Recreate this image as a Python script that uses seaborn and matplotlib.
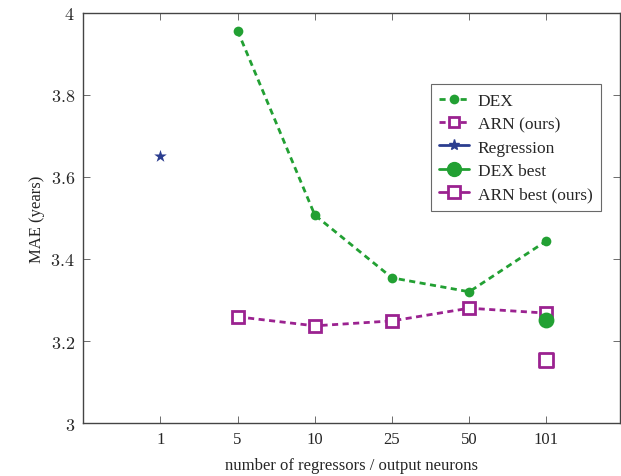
import numpy as np
import pandas as pd
import matplotlib
matplotlib.use("Agg")
import matplotlib.pyplot as plt
from matplotlib.lines import Line2D
import seaborn as sns

# values
categories = ["1", "5", "10", "25", "50", "101"]
dex_x = ["5", "10", "25", "50", "101"]
dex_mae = [3.956, 3.507, 3.354, 3.320, 3.444]
arn_x = ["5", "10", "25", "50", "101"]
arn_mae = [3.259, 3.237, 3.249, 3.280, 3.268]
reg_x = ["1"]
reg_mae = [3.651]
dex_best_x = ["101"]
dex_best_mae = [3.251]
arn_best_x = ["101"]
arn_best_mae = [3.154]

green = "#22a033"
purple = "#9b2290"
blue = "#2b3d8f"

sns.set_theme(style="ticks")
plt.rcParams['font.family'] = ['Liberation Serif', 'DejaVu Serif']
plt.rcParams['mathtext.fontset'] = 'cm'

pos = {c: i for i, c in enumerate(categories)}

def frame(xs, ys, name):
    return pd.DataFrame({"x": [pos[v] for v in xs], "mae": ys, "series": name})

fig, ax = plt.subplots(figsize=(6.21, 4.77), dpi=100)

sns.lineplot(data=frame(dex_x, dex_mae, "DEX"), x="x", y="mae", ax=ax, color=green,
             linestyle=(0, (2.2, 1.6)), linewidth=2, marker="o", markersize=7,
             markeredgewidth=0, legend=False)
sns.lineplot(data=frame(arn_x, arn_mae, "ARN"), x="x", y="mae", ax=ax, color=purple,
             linestyle=(0, (2.2, 1.6)), linewidth=2, marker="s", markersize=9,
             markerfacecolor="white", markeredgecolor=purple, markeredgewidth=2,
             legend=False)
sns.scatterplot(data=frame(reg_x, reg_mae, "Regression"), x="x", y="mae", ax=ax,
                color=blue, marker="*", s=90, linewidth=0, legend=False)
sns.scatterplot(data=frame(dex_best_x, dex_best_mae, "DEX best"), x="x", y="mae", ax=ax,
                color=green, marker="o", s=130, linewidth=0, legend=False, zorder=5)
sns.scatterplot(data=frame(arn_best_x, arn_best_mae, "ARN best"), x="x", y="mae", ax=ax,
                marker="s", s=110, facecolor="white", edgecolor=purple, linewidth=2,
                legend=False, zorder=5)

ax.set_xlim(-1.0, 5.95)
ax.set_ylim(3, 4)
ax.set_xticks(range(len(categories)))
ax.set_xticklabels(categories, fontsize=12)
yt = [3, 3.2, 3.4, 3.6, 3.8, 4]
ax.set_yticks(yt)
ax.set_yticklabels(["$%g$" % v for v in yt], fontsize=13)
ax.tick_params(direction="in", top=True, right=True, length=5, width=0.6,
               color="#555555")
ax.tick_params(axis="x", pad=6)
ax.tick_params(axis="y", pad=6)
ax.set_xlabel("number of regressors / output neurons", fontsize=12, labelpad=7)
ax.set_ylabel("MAE (years)", fontsize=12)
ax.yaxis.set_label_coords(-0.072, 0.5)
for s in ax.spines.values():
    s.set_linewidth(1.0)
    s.set_color("#444444")

handles = [
    Line2D([], [], color=green, linestyle=(0, (2.2, 1.6)), linewidth=2, marker="o",
           markersize=7, markeredgewidth=0),
    Line2D([], [], color=purple, linestyle=(0, (2.2, 1.6)), linewidth=2, marker="s",
           markersize=7, markerfacecolor="white", markeredgewidth=2),
    Line2D([], [], color=blue, linewidth=2, marker="*", markersize=8),
    Line2D([], [], color=green, linewidth=2, marker="o", markersize=10),
    Line2D([], [], color=purple, linewidth=2, marker="s", markersize=8,
           markerfacecolor="white", markeredgewidth=2),
]
labels = ["DEX", "ARN (ours)", "Regression", "DEX best", "ARN best (ours)"]
leg = ax.legend(handles, labels, loc="upper right", bbox_to_anchor=(0.965, 0.827),
                borderaxespad=0, fontsize=12.5, frameon=True, fancybox=False,
                handlelength=1.7, handletextpad=0.5, borderpad=0.5, labelspacing=0.42)
leg.get_frame().set_edgecolor("#444444")
leg.get_frame().set_linewidth(0.8)

fig.subplots_adjust(left=0.134, right=0.998, top=0.971, bottom=0.111)
fig.savefig("out.png", dpi=100)
